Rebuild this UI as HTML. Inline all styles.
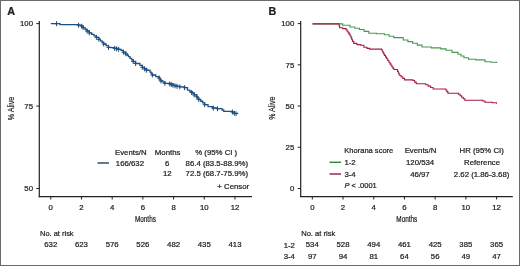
<!DOCTYPE html>
<html><head><meta charset="utf-8"><style>
html,body{margin:0;padding:0;background:#fff;}
body{width:520px;height:266px;overflow:hidden;}
svg{display:block;will-change:transform;}
text{font-family:"Liberation Sans", sans-serif;fill:#222;stroke:#222;stroke-width:0.22px;}
</style></head><body>
<svg width="520" height="266" viewBox="0 0 520 266">
<rect x="0.5" y="0.5" width="519" height="265" fill="#fff" stroke="#6a6a6a" stroke-width="1"/>
<line x1="39.3" y1="21.0" x2="39.3" y2="197.2" stroke="#222" stroke-width="1.2"/>
<line x1="38.699999999999996" y1="196.7" x2="252" y2="196.7" stroke="#222" stroke-width="1.2"/>
<line x1="36.3" y1="23.6" x2="39.3" y2="23.6" stroke="#222" stroke-width="1"/>
<text x="33.0" y="26.3" text-anchor="end" font-size="7.8" font-weight="normal" font-style="normal" >100</text>
<line x1="36.3" y1="106.05000000000001" x2="39.3" y2="106.05000000000001" stroke="#222" stroke-width="1"/>
<text x="33.0" y="108.75000000000001" text-anchor="end" font-size="7.8" font-weight="normal" font-style="normal" >75</text>
<line x1="36.3" y1="188.5" x2="39.3" y2="188.5" stroke="#222" stroke-width="1"/>
<text x="33.0" y="191.2" text-anchor="end" font-size="7.8" font-weight="normal" font-style="normal" >50</text>
<line x1="50.75" y1="196.7" x2="50.75" y2="199.5" stroke="#222" stroke-width="1"/>
<text x="50.75" y="209.8" text-anchor="middle" font-size="7.8" font-weight="normal" font-style="normal" >0</text>
<line x1="81.458" y1="196.7" x2="81.458" y2="199.5" stroke="#222" stroke-width="1"/>
<text x="81.458" y="209.8" text-anchor="middle" font-size="7.8" font-weight="normal" font-style="normal" >2</text>
<line x1="112.166" y1="196.7" x2="112.166" y2="199.5" stroke="#222" stroke-width="1"/>
<text x="112.166" y="209.8" text-anchor="middle" font-size="7.8" font-weight="normal" font-style="normal" >4</text>
<line x1="142.874" y1="196.7" x2="142.874" y2="199.5" stroke="#222" stroke-width="1"/>
<text x="142.874" y="209.8" text-anchor="middle" font-size="7.8" font-weight="normal" font-style="normal" >6</text>
<line x1="173.582" y1="196.7" x2="173.582" y2="199.5" stroke="#222" stroke-width="1"/>
<text x="173.582" y="209.8" text-anchor="middle" font-size="7.8" font-weight="normal" font-style="normal" >8</text>
<line x1="204.29" y1="196.7" x2="204.29" y2="199.5" stroke="#222" stroke-width="1"/>
<text x="204.29" y="209.8" text-anchor="middle" font-size="7.8" font-weight="normal" font-style="normal" >10</text>
<line x1="234.998" y1="196.7" x2="234.998" y2="199.5" stroke="#222" stroke-width="1"/>
<text x="234.998" y="209.8" text-anchor="middle" font-size="7.8" font-weight="normal" font-style="normal" >12</text>
<text x="145.4" y="222.4" text-anchor="middle" font-size="8.6" font-weight="normal" font-style="normal" textLength="21" lengthAdjust="spacingAndGlyphs" stroke="#222" stroke-width="0.25">Months</text>
<text transform="translate(13.7,108.5) rotate(-90)" text-anchor="middle" font-size="8.4" stroke="#222" stroke-width="0.25" textLength="23.5" lengthAdjust="spacingAndGlyphs">% Alive</text>
<text x="7.2" y="14.8" text-anchor="start" font-size="10.8" font-weight="bold" font-style="normal" >A</text>
<path d="M50.80,23.70H60.00V23.70H60.01V24.70H76.40V24.70H78.60V25.20H81.70V26.20H83.10V27.60H85.05V29.30H87.00V31.00H89.30V32.90H91.67V34.37H94.03V35.83H96.40V37.30H98.80V39.30H100.43V40.87H102.07V42.43H103.70V44.00H106.10V45.70H108.50V47.40H110.90V47.60H114.70V48.40H118.60V49.30H121.00V50.30H123.40V52.20H125.80V53.80H127.10V55.25H128.40V56.70H130.00V58.30H131.60V59.90H133.20V61.50H135.60V63.50H139.90V65.40H142.30V67.30H144.45V68.75H146.60V70.20H150.00V72.10H151.20V73.55H152.40V75.00H155.75V76.55H159.10V78.10H160.05V79.55H161.00V81.00H162.95V82.20H164.90V83.40H169.70V83.90H173.00V85.30H177.00V86.30H179.80V86.80H184.60V87.70H187.50V90.10H189.90V91.55H192.30V93.00H194.20V94.90H196.80V96.80H197.80V98.15H198.80V99.50H200.77V101.23H202.73V102.97H204.70V104.70H208.00V106.70H212.60V108.00H217.20V108.70H220.50V108.70H222.15V110.00H223.80V111.30H228.40V111.30H232.40V112.00H234.30V113.30H237.60V114.00" fill="none" stroke="#1f4f80" stroke-width="1.3"/>
<path d="M56.50,21.20V26.20M54.50,23.70H58.50M78.60,22.70V27.70M76.60,25.20H80.60M81.70,23.70V28.70M79.70,26.20H83.70M83.10,25.10V30.10M81.10,27.60H85.10M87.00,28.50V33.50M85.00,31.00H89.00M89.30,30.40V35.40M87.30,32.90H91.30M96.40,34.80V39.80M94.40,37.30H98.40M98.80,36.80V41.80M96.80,39.30H100.80M103.70,41.50V46.50M101.70,44.00H105.70M108.50,44.90V49.90M106.50,47.40H110.50M114.70,45.90V50.90M112.70,48.40H116.70M116.60,46.34V51.34M114.60,48.84H118.60M118.60,46.80V51.80M116.60,49.30H120.60M123.40,49.70V54.70M121.40,52.20H125.40M125.80,51.30V56.30M123.80,53.80H127.80M133.20,59.00V64.00M131.20,61.50H135.20M135.60,61.00V66.00M133.60,63.50H137.60M142.30,64.80V69.80M140.30,67.30H144.30M144.70,66.42V71.42M142.70,68.92H146.70M146.60,67.70V72.70M144.60,70.20H148.60M152.40,72.50V77.50M150.40,75.00H154.40M159.10,75.60V80.60M157.10,78.10H161.10M161.00,78.50V83.50M159.00,81.00H163.00M164.90,80.90V85.90M162.90,83.40H166.90M169.70,81.40V86.40M167.70,83.90H171.70M171.20,82.04V87.04M169.20,84.54H173.20M173.00,82.80V87.80M171.00,85.30H175.00M175.00,83.30V88.30M173.00,85.80H177.00M177.00,83.80V88.80M175.00,86.30H179.00M179.80,84.30V89.30M177.80,86.80H181.80M184.60,85.20V90.20M182.60,87.70H186.60M191.60,90.08V95.08M189.60,92.58H193.60M194.20,92.40V97.40M192.20,94.90H196.20M196.80,94.30V99.30M194.80,96.80H198.80M198.80,97.00V102.00M196.80,99.50H200.80M204.70,102.20V107.20M202.70,104.70H206.70M213.30,105.61V110.61M211.30,108.11H215.30M217.50,106.20V111.20M215.50,108.70H219.50M232.40,109.50V114.50M230.40,112.00H234.40M234.30,110.80V115.80M232.30,113.30H236.30M236.00,111.16V116.16M234.00,113.66H238.00" fill="none" stroke="#1f4f80" stroke-width="1"/>
<text x="115" y="155.2" text-anchor="start" font-size="7.8" font-weight="normal" font-style="normal" >Events/N</text>
<text x="154.8" y="155.2" text-anchor="start" font-size="7.8" font-weight="normal" font-style="normal" >Months</text>
<text x="195.2" y="155.2" text-anchor="start" font-size="7.8" font-weight="normal" font-style="normal" >% (95% CI )</text>
<line x1="97.5" y1="163" x2="109" y2="163" stroke="#1d426c" stroke-width="1.4"/>
<text x="115.8" y="165.6" text-anchor="start" font-size="7.8" font-weight="normal" font-style="normal" >166/632</text>
<text x="167.2" y="165.6" text-anchor="middle" font-size="7.8" font-weight="normal" font-style="normal" >6</text>
<text x="185.6" y="165.6" text-anchor="start" font-size="7.8" font-weight="normal" font-style="normal" >86.4 (83.5-88.9%)</text>
<text x="167.3" y="175.6" text-anchor="middle" font-size="7.8" font-weight="normal" font-style="normal" >12</text>
<text x="185.6" y="175.6" text-anchor="start" font-size="7.8" font-weight="normal" font-style="normal" >72.5 (68.7-75.9%)</text>
<text x="217.3" y="188.5" text-anchor="start" font-size="7.8" font-weight="normal" font-style="normal" >+ Censor</text>
<text x="40" y="235.5" text-anchor="start" font-size="7.8" font-weight="normal" font-style="normal" textLength="33.6" lengthAdjust="spacingAndGlyphs">No. at risk</text>
<text x="50.75" y="247.1" text-anchor="middle" font-size="7.8" font-weight="normal" font-style="normal" >632</text>
<text x="81.458" y="247.1" text-anchor="middle" font-size="7.8" font-weight="normal" font-style="normal" >623</text>
<text x="112.166" y="247.1" text-anchor="middle" font-size="7.8" font-weight="normal" font-style="normal" >576</text>
<text x="142.874" y="247.1" text-anchor="middle" font-size="7.8" font-weight="normal" font-style="normal" >526</text>
<text x="173.582" y="247.1" text-anchor="middle" font-size="7.8" font-weight="normal" font-style="normal" >482</text>
<text x="204.29" y="247.1" text-anchor="middle" font-size="7.8" font-weight="normal" font-style="normal" >435</text>
<text x="234.998" y="247.1" text-anchor="middle" font-size="7.8" font-weight="normal" font-style="normal" >413</text>
<line x1="300.7" y1="21.0" x2="300.7" y2="197.1" stroke="#222" stroke-width="1.2"/>
<line x1="300.09999999999997" y1="196.6" x2="512.8" y2="196.6" stroke="#222" stroke-width="1.2"/>
<line x1="297.7" y1="23.6" x2="300.7" y2="23.6" stroke="#222" stroke-width="1"/>
<text x="294.3" y="26.3" text-anchor="end" font-size="7.8" font-weight="normal" font-style="normal" >100</text>
<line x1="297.7" y1="64.83" x2="300.7" y2="64.83" stroke="#222" stroke-width="1"/>
<text x="294.3" y="67.53" text-anchor="end" font-size="7.8" font-weight="normal" font-style="normal" >75</text>
<line x1="297.7" y1="106.06" x2="300.7" y2="106.06" stroke="#222" stroke-width="1"/>
<text x="294.3" y="108.76" text-anchor="end" font-size="7.8" font-weight="normal" font-style="normal" >50</text>
<line x1="297.7" y1="147.29" x2="300.7" y2="147.29" stroke="#222" stroke-width="1"/>
<text x="294.3" y="149.98999999999998" text-anchor="end" font-size="7.8" font-weight="normal" font-style="normal" >25</text>
<line x1="297.7" y1="188.51999999999998" x2="300.7" y2="188.51999999999998" stroke="#222" stroke-width="1"/>
<text x="294.3" y="191.21999999999997" text-anchor="end" font-size="7.8" font-weight="normal" font-style="normal" >0</text>
<line x1="312.3" y1="196.6" x2="312.3" y2="199.5" stroke="#222" stroke-width="1"/>
<text x="312.3" y="209.8" text-anchor="middle" font-size="7.8" font-weight="normal" font-style="normal" >0</text>
<line x1="343.016" y1="196.6" x2="343.016" y2="199.5" stroke="#222" stroke-width="1"/>
<text x="343.016" y="209.8" text-anchor="middle" font-size="7.8" font-weight="normal" font-style="normal" >2</text>
<line x1="373.732" y1="196.6" x2="373.732" y2="199.5" stroke="#222" stroke-width="1"/>
<text x="373.732" y="209.8" text-anchor="middle" font-size="7.8" font-weight="normal" font-style="normal" >4</text>
<line x1="404.448" y1="196.6" x2="404.448" y2="199.5" stroke="#222" stroke-width="1"/>
<text x="404.448" y="209.8" text-anchor="middle" font-size="7.8" font-weight="normal" font-style="normal" >6</text>
<line x1="435.164" y1="196.6" x2="435.164" y2="199.5" stroke="#222" stroke-width="1"/>
<text x="435.164" y="209.8" text-anchor="middle" font-size="7.8" font-weight="normal" font-style="normal" >8</text>
<line x1="465.88" y1="196.6" x2="465.88" y2="199.5" stroke="#222" stroke-width="1"/>
<text x="465.88" y="209.8" text-anchor="middle" font-size="7.8" font-weight="normal" font-style="normal" >10</text>
<line x1="496.596" y1="196.6" x2="496.596" y2="199.5" stroke="#222" stroke-width="1"/>
<text x="496.596" y="209.8" text-anchor="middle" font-size="7.8" font-weight="normal" font-style="normal" >12</text>
<text x="406.8" y="222.2" text-anchor="middle" font-size="8.6" font-weight="normal" font-style="normal" textLength="21" lengthAdjust="spacingAndGlyphs" stroke="#222" stroke-width="0.25">Months</text>
<text transform="translate(275.0,108.2) rotate(-90)" text-anchor="middle" font-size="8.4" stroke="#222" stroke-width="0.25" textLength="23" lengthAdjust="spacingAndGlyphs">% Alive</text>
<text x="268.6" y="14.9" text-anchor="start" font-size="10.8" font-weight="bold" font-style="normal" >B</text>
<path d="M312.50,23.90H338.80V23.90H342.60V25.20H350.00V27.00H354.75V28.25H359.50V29.50H364.15V31.35H368.80V33.20H376.40V33.80H384.40V34.80H389.10V36.20H393.80V37.60H403.20V40.00H407.90V41.60H412.60V43.20H417.30V45.10H422.00V47.00H431.30V47.90H440.70V48.90H446.00V50.20H452.00V52.40H458.00V54.20H461.00V55.95H464.00V57.70H468.50V59.20H476.00V59.90H485.00V61.70H491.00V62.20H496.80V62.90" fill="none" stroke="#46994c" stroke-width="1.1"/>
<path d="M312.50,23.90H338.80V23.90H339.20V25.85H339.60V27.80H342.80V28.60H346.00V29.70H347.07V31.27H348.13V32.83H349.20V34.40H350.15V36.00H351.10V37.60H351.75V39.50H352.40V41.40H353.70V43.40H356.90V44.60H360.70V45.30H363.90V47.20H367.00V48.40H369.60V49.10H381.60V49.80H382.30V51.20H383.00V52.60H383.70V54.00H384.40V55.40H385.52V57.10H386.64V58.80H387.76V60.50H388.88V62.20H390.00V63.90H390.95V65.30H391.90V66.70H392.85V68.10H393.80V69.50H397.50V71.40H398.35V73.30H399.20V75.20H400.97V76.77H402.73V78.33H404.50V79.90H413.00V80.50H414.60V82.10H416.20V83.70H425.70V84.70H428.17V86.13H430.63V87.57H433.10V89.00H445.80V90.00H446.85V91.60H447.90V93.20H458.50V94.20H460.07V95.70H461.65V97.20H463.23V98.70H464.80V100.20H482.80V101.00H484.90V102.30H492.30V102.70H496.50V103.80" fill="none" stroke="#a61d40" stroke-width="1.1"/>
<text x="344.3" y="153.1" text-anchor="start" font-size="7.8" font-weight="normal" font-style="normal" textLength="49" lengthAdjust="spacingAndGlyphs">Khorana score</text>
<text x="420.5" y="153.4" text-anchor="middle" font-size="7.8" font-weight="normal" font-style="normal" >Events/N</text>
<text x="481.7" y="153.4" text-anchor="middle" font-size="7.8" font-weight="normal" font-style="normal" >HR (95% CI)</text>
<line x1="329.5" y1="162.3" x2="341" y2="162.3" stroke="#367d42" stroke-width="1.4"/>
<text x="344.4" y="165.1" text-anchor="start" font-size="7.8" font-weight="normal" font-style="normal" >1-2</text>
<text x="420.1" y="165.3" text-anchor="middle" font-size="7.8" font-weight="normal" font-style="normal" >120/534</text>
<text x="482" y="165.3" text-anchor="middle" font-size="7.8" font-weight="normal" font-style="normal" >Reference</text>
<line x1="329.5" y1="174" x2="341" y2="174" stroke="#8c1d44" stroke-width="1.4"/>
<text x="344.4" y="176.8" text-anchor="start" font-size="7.8" font-weight="normal" font-style="normal" >3-4</text>
<text x="419.9" y="177.1" text-anchor="middle" font-size="7.8" font-weight="normal" font-style="normal" >46/97</text>
<text x="481.6" y="177.1" text-anchor="middle" font-size="7.8" font-weight="normal" font-style="normal" >2.62 (1.86-3.68)</text>
<text x="344.4" y="188.4" font-size="7.5"><tspan font-style="italic">P</tspan> &lt; .0001</text>
<text x="301.2" y="235.5" text-anchor="start" font-size="7.8" font-weight="normal" font-style="normal" textLength="34" lengthAdjust="spacingAndGlyphs">No. at risk</text>
<text x="283.7" y="247.5" text-anchor="start" font-size="7.8" font-weight="normal" font-style="normal" >1-2</text>
<text x="283.7" y="259" text-anchor="start" font-size="7.8" font-weight="normal" font-style="normal" >3-4</text>
<text x="312.3" y="247.4" text-anchor="middle" font-size="7.8" font-weight="normal" font-style="normal" >534</text>
<text x="312.3" y="259.0" text-anchor="middle" font-size="7.8" font-weight="normal" font-style="normal" >97</text>
<text x="343.016" y="247.4" text-anchor="middle" font-size="7.8" font-weight="normal" font-style="normal" >528</text>
<text x="343.016" y="259.0" text-anchor="middle" font-size="7.8" font-weight="normal" font-style="normal" >94</text>
<text x="373.732" y="247.4" text-anchor="middle" font-size="7.8" font-weight="normal" font-style="normal" >494</text>
<text x="373.732" y="259.0" text-anchor="middle" font-size="7.8" font-weight="normal" font-style="normal" >81</text>
<text x="404.448" y="247.4" text-anchor="middle" font-size="7.8" font-weight="normal" font-style="normal" >461</text>
<text x="404.448" y="259.0" text-anchor="middle" font-size="7.8" font-weight="normal" font-style="normal" >64</text>
<text x="435.164" y="247.4" text-anchor="middle" font-size="7.8" font-weight="normal" font-style="normal" >425</text>
<text x="435.164" y="259.0" text-anchor="middle" font-size="7.8" font-weight="normal" font-style="normal" >56</text>
<text x="465.88" y="247.4" text-anchor="middle" font-size="7.8" font-weight="normal" font-style="normal" >385</text>
<text x="465.88" y="259.0" text-anchor="middle" font-size="7.8" font-weight="normal" font-style="normal" >49</text>
<text x="496.596" y="247.4" text-anchor="middle" font-size="7.8" font-weight="normal" font-style="normal" >365</text>
<text x="496.596" y="259.0" text-anchor="middle" font-size="7.8" font-weight="normal" font-style="normal" >47</text>
</svg>
</body></html>
